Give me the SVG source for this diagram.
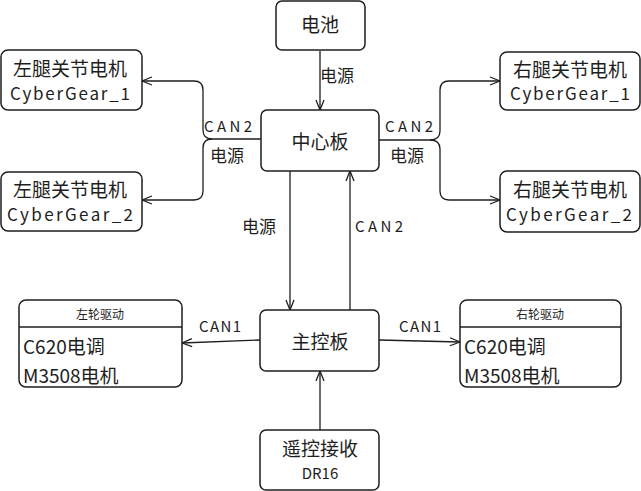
<svg xmlns="http://www.w3.org/2000/svg" width="641" height="491" viewBox="0 0 641 491">
<defs>
<style>
.box{fill:#ffffff;stroke:#1e1e1e;stroke-width:1.5}
.ln{fill:none;stroke:#1e1e1e;stroke-width:1.3}
text{font-family:"Noto Sans CJK SC","Liberation Sans",sans-serif;fill:#1e1e1e}
.t20{font-size:19px}
.t17{font-size:17px}
.t15{font-size:15px}
.t12{font-size:12px}
.m{text-anchor:middle}
</style>
<marker id="ah" viewBox="0 0 12 12" refX="11" refY="6" markerWidth="12" markerHeight="12" markerUnits="userSpaceOnUse" orient="auto">
<path d="M1,2 L11,6 L1,10" fill="none" stroke="#1e1e1e" stroke-width="1.3"/>
</marker>
</defs>
<rect width="641" height="491" fill="#ffffff"/>
<g id="connectors">
<path class="ln" d="M320,51 L320,110" marker-end="url(#ah)"/>
<path class="ln" d="M261,139 L212,139 Q203,139 203,130 L203,90 Q203,81 194,81 L142,81" marker-end="url(#ah)"/>
<path class="ln" d="M212,139 Q203,139 203,148 L203,191 Q203,200 194,200 L142,200" marker-end="url(#ah)"/>
<path class="ln" d="M379,140 L430,140 Q440,140 440,131 L440,90 Q440,81 449,81 L500,81" marker-end="url(#ah)"/>
<path class="ln" d="M430,140 Q440,140 440,149 L440,191 Q440,200 449,200 L500,200" marker-end="url(#ah)"/>
<path class="ln" d="M290,171 L290,310" marker-end="url(#ah)"/>
<path class="ln" d="M350,310 L350,171" marker-end="url(#ah)"/>
<path class="ln" d="M260,340 L182,343" marker-end="url(#ah)"/>
<path class="ln" d="M379,340 L460,342" marker-end="url(#ah)"/>
<path class="ln" d="M320,430 L320,371" marker-end="url(#ah)"/>
<text class="t17" x="320" y="82">电源</text>
<text class="t15" x="204" y="132" textLength="48" lengthAdjust="spacing">CAN2</text>
<text class="t17" x="210" y="162">电源</text>
<text class="t15" x="385" y="132" textLength="48" lengthAdjust="spacing">CAN2</text>
<text class="t17" x="390" y="162">电源</text>
<text class="t17" x="242" y="233">电源</text>
<text class="t15" x="355" y="232" textLength="48" lengthAdjust="spacing">CAN2</text>
<text class="t15" x="199" y="332" textLength="42" lengthAdjust="spacing">CAN1</text>
<text class="t15" x="399" y="332" textLength="42" lengthAdjust="spacing">CAN1</text>
</g>
<g id="battery">
<rect class="box" x="276" y="1" width="89" height="49" rx="6"/>
<text class="t20 m" x="320" y="32">电池</text>
</g>
<g id="center-board">
<rect class="box" x="261" y="110" width="118" height="61" rx="6"/>
<text class="t20 m" x="320" y="149">中心板</text>
</g>
<g id="left-leg-1">
<rect class="box" x="1" y="50" width="141" height="60" rx="7"/>
<text class="t20 m" x="70" y="76">左腿关节电机</text>
<text class="t17" x="10" y="100" textLength="120" lengthAdjust="spacing">CyberGear_1</text>
</g>
<g id="left-leg-2">
<rect class="box" x="1" y="172" width="141" height="59" rx="7"/>
<text class="t20 m" x="70" y="197">左腿关节电机</text>
<text class="t17" x="7" y="221" textLength="126" lengthAdjust="spacing">CyberGear_2</text>
</g>
<g id="right-leg-1">
<rect class="box" x="500" y="52" width="140" height="58" rx="7"/>
<text class="t20 m" x="570" y="77">右腿关节电机</text>
<text class="t17" x="510" y="100" textLength="120" lengthAdjust="spacing">CyberGear_1</text>
</g>
<g id="right-leg-2">
<rect class="box" x="500" y="171" width="140" height="61" rx="7"/>
<text class="t20 m" x="570" y="197">右腿关节电机</text>
<text class="t17" x="506" y="221" textLength="126" lengthAdjust="spacing">CyberGear_2</text>
</g>
<g id="main-board">
<rect class="box" x="260" y="310" width="119" height="61" rx="6"/>
<text class="t20 m" x="320" y="349">主控板</text>
</g>
<g id="left-wheel">
<rect class="box" x="19" y="300" width="163" height="87" rx="7"/>
<line class="ln" x1="19" y1="327" x2="182" y2="327"/>
<text class="t12 m" x="100" y="319">左轮驱动</text>
<text class="t20" x="23" y="354">C620电调</text>
<text class="t20" x="23" y="383">M3508电机</text>
</g>
<g id="right-wheel">
<rect class="box" x="460" y="300" width="161" height="87" rx="7"/>
<line class="ln" x1="460" y1="327" x2="621" y2="327"/>
<text class="t12 m" x="540" y="319">右轮驱动</text>
<text class="t20" x="464" y="354">C620电调</text>
<text class="t20" x="464" y="383">M3508电机</text>
</g>
<g id="remote">
<rect class="box" x="260" y="430" width="119" height="60" rx="6"/>
<text class="t20 m" x="320" y="456">遥控接收</text>
<text class="t15 m" x="320" y="479">DR16</text>
</g>
</svg>
